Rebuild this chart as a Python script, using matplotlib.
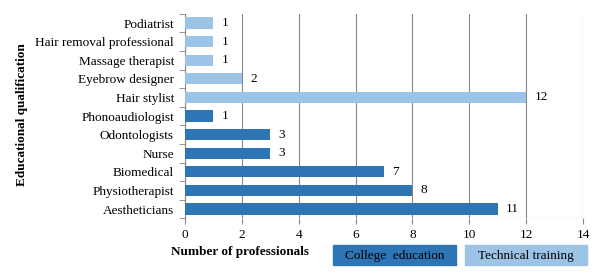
import matplotlib.pyplot as plt
from matplotlib.patches import Rectangle

plt.rcParams["font.family"] = ["Liberation Serif", "DejaVu Serif"]

categories = [
    "Aestheticians", "Physiotherapist", "Biomedical", "Nurse", "Odontologists",
    "Phonoaudiologist", "Hair stylist", "Eyebrow designer", "Massage therapist",
    "Hair removal professional", "Podiatrist",
]
values = [11, 8, 7, 3, 3, 1, 12, 2, 1, 1, 1]
groups = ["college"] * 6 + ["technical"] * 5
group_labels = {"college": "College  education", "technical": "Technical training"}
colors = {"college": "#2E75B6", "technical": "#9DC3E6"}

FS = 9.5
W, H = 605, 273
fig = plt.figure(figsize=(W / 100, H / 100), dpi=100)
ax = fig.add_axes([185 / W, 1 - 218.3 / H, (583 - 185) / W, (218.3 - 13.7) / H])

ypos = list(range(len(categories)))
ax.barh(ypos, values, height=0.6, color=[colors[g] for g in groups], zorder=3)
for y, v in zip(ypos, values):
    ax.annotate(str(v), (v, y), xytext=(6, 0), textcoords="offset points",
                va="center", ha="left", fontsize=FS)

ax.set_xlim(0, 14)
ax.set_xticks(range(0, 15, 2))
ax.set_ylim(-0.5, len(categories) - 0.5)
ax.set_yticks(ypos)
ax.set_yticklabels(categories, fontsize=FS)
ax.set_yticks([y + 0.5 for y in range(-1, len(categories))], minor=True)
ax.tick_params(axis="y", which="major", length=0, pad=8)
ax.tick_params(axis="y", which="minor", length=4, color="#888888")
ax.tick_params(axis="x", length=4, color="#888888", labelsize=FS)
ax.grid(axis="x", color="#888888", linewidth=0.8, zorder=0)
for s in ["top", "right", "bottom"]:
    ax.spines[s].set_visible(False)
ax.spines["left"].set_color("#888888")
ax.axhline(-0.5, color="#888888", linewidth=0.8, zorder=2)

fig.text(22 / W, 1 - 115 / H, "Educational qualification", rotation=90,
         ha="center", va="center", fontsize=FS, fontweight="bold")
fig.text(240 / W, 1 - 252 / H, "Number of professionals",
         ha="center", va="center", fontsize=FS, fontweight="bold")

# legend boxes
for (x0, x1), g in zip([(333, 456), (465, 587)], ["college", "technical"]):
    fig.add_artist(Rectangle((x0 / W, 1 - 265 / H), (x1 - x0) / W, 20 / H,
                             transform=fig.transFigure, color=colors[g]))
    fig.text((x0 + x1) / 2 / W, 1 - 256 / H, group_labels[g],
             ha="center", va="center", fontsize=FS)

fig.savefig("out.png", dpi=100)
